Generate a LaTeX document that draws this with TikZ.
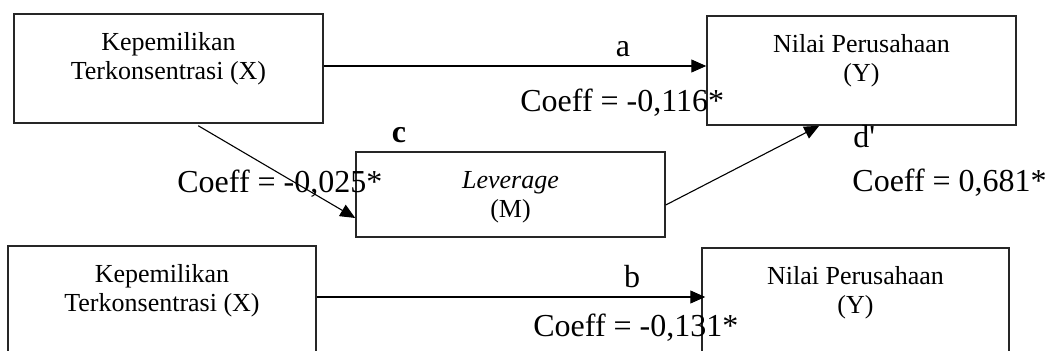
\documentclass[tikz,border=0pt]{standalone}
\usepackage{fontspec}
\setmainfont{Liberation Serif}
\usetikzlibrary{arrows.meta}
\tikzset{
  box/.style={draw=black!85, line width=0.75pt, rectangle, inner sep=0pt},
  boxtext/.style={font=\fontsize{13}{14.5}\selectfont, align=center, inner sep=0pt, anchor=base},
  lbl/.style={font=\fontsize{16}{19}\selectfont, inner sep=0pt, anchor=base west},
  clbl/.style={font=\fontsize{16}{19}\selectfont, inner sep=0pt, anchor=base},
  arr/.style={line width=0.55pt, -{Triangle[length=7.5pt,width=6.5pt]}}
}
\begin{document}
\begin{tikzpicture}[x=0.5pt,y=-0.5pt]
\useasboundingbox (0,0) rectangle (1045,351);
\clip (0,0) rectangle (1045,351);
% boxes
\node[box, minimum width=154.5pt, minimum height=54.5pt] (X1) at (168.5,68.5) {};
\node[box, minimum width=154.5pt, minimum height=54.5pt] (Y1) at (861.5,70.5) {};
\node[box, minimum width=154.5pt, minimum height=42.5pt] (M) at (510.5,194.5) {};
\node[box, minimum width=154pt, minimum height=54.5pt] (X2) at (162,300.5) {};
\node[box, minimum width=153.5pt, minimum height=54.5pt] (Y2) at (855.5,302.5) {};
% box texts (anchor at baseline of last line)
\node[boxtext] (X1t) at (168.5,80) {Kepemilikan\\Terkonsentrasi (X)};
\node[boxtext] (Y1t) at (861.5,82) {Nilai Perusahaan\\(Y)};
\node[boxtext] (Mt) at (510.5,218) {\textit{Leverage}\\(M)};
\node[boxtext] (X2t) at (162,312) {Kepemilikan\\Terkonsentrasi (X)};
\node[boxtext] (Y2t) at (855.5,314) {Nilai Perusahaan\\(Y)};
% connectors
\coordinate (aS) at ([yshift=1.25pt]X1.east);
\draw[arr] (aS) -- (aS -| Y1.west);
\coordinate (cS) at ([xshift=92.5pt,yshift=-1pt]X1.south west);
\coordinate (cE) at ([yshift=-11.75pt]M.west);
\draw[arr] (cS) -- (cE);
\coordinate (dS) at ([yshift=-5.25pt]M.east);
\coordinate (dE) at ([xshift=56.5pt]Y1.south west);
\draw[arr] (dS) -- (dE);
\coordinate (bS) at ([yshift=1.75pt]X2.east);
\draw[arr] (bS) -- ([xshift=2pt]bS -| Y2.west);
% labels
\node[clbl] (la) at (623,57) {a};
\node[lbl] (ca) at (520,112) {Coeff = -0,116*};
\node[clbl] (lc) at (399,143) {\textbf{c}};
\node[lbl] (cc) at (177,193) {Coeff = -0,025*};
\node[lbl] (ld) at (853,148) {d\textquotesingle};
\node[lbl] (cd) at (852,192) {Coeff = 0,681*};
\node[clbl] (lb) at (632,288) {b};
\node[lbl] (cb) at (533,337) {Coeff = -0,131*};
\end{tikzpicture}
\end{document}
